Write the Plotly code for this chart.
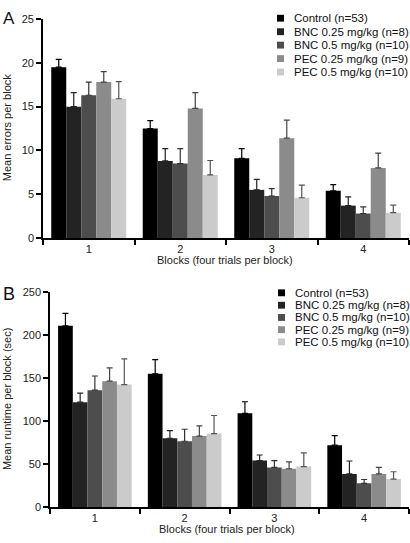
import plotly.graph_objects as go

W, H = 410, 543
FONT = "Liberation Sans, Arial, Helvetica, sans-serif"

# ---------------- data ----------------
blocks = [1, 2, 3, 4]
block_labels = ["1", "2", "3", "4"]
groups = ["Control (n=53)", "BNC 0.25 mg/kg (n=8)", "BNC 0.5 mg/kg (n=10)",
          "PEC 0.25 mg/kg (n=9)", "PEC 0.5 mg/kg (n=10)"]

# Panel A: mean errors per block and SEM
err_control = [19.5, 12.5, 9.1, 5.4]
err_bnc025 = [15.0, 8.8, 5.5, 3.7]
err_bnc05 = [16.3, 8.5, 4.8, 2.8]
err_pec025 = [17.8, 14.8, 11.4, 8.0]
err_pec05 = [15.9, 7.2, 4.6, 2.9]

sem_err_control = [0.9, 0.9, 1.1, 0.7]
sem_err_bnc025 = [1.6, 1.4, 1.2, 1.0]
sem_err_bnc05 = [1.5, 1.7, 0.85, 0.75]
sem_err_pec025 = [1.2, 1.8, 2.05, 1.7]
sem_err_pec05 = [1.95, 1.65, 1.45, 0.85]

# Panel B: mean runtime per block (sec) and SEM
run_control = [211, 155, 109, 72]
run_bnc025 = [122, 80, 54, 38.5]
run_bnc05 = [136, 76.5, 46, 27.5]
run_pec025 = [146.5, 82.5, 44.5, 38.5]
run_pec05 = [142.5, 85.5, 47, 32.5]

sem_run_control = [14.5, 16.5, 13.5, 11]
sem_run_bnc025 = [10.5, 9, 6.5, 15]
sem_run_bnc05 = [16.5, 14, 8, 4.5]
sem_run_pec025 = [15.5, 12, 8, 7.5]
sem_run_pec05 = [30, 21, 16, 8.5]

yticks_A = [0, 5, 10, 15, 20, 25]
yticks_B = [0, 50, 100, 150, 200, 250]

# ---------------- style ----------------
colors = ["#000000", "#232323", "#4d4d4d", "#8b8b8b", "#cbcbcb"]
errbar_colors = ["#000000", "#222222", "#333333", "#444444", "#555555"]

means_A = [err_control, err_bnc025, err_bnc05, err_pec025, err_pec05]
sems_A = [sem_err_control, sem_err_bnc025, sem_err_bnc05, sem_err_pec025, sem_err_pec05]
means_B = [run_control, run_bnc025, run_bnc05, run_pec025, run_pec05]
sems_B = [sem_run_control, sem_run_bnc025, sem_run_bnc05, sem_run_pec025, sem_run_pec05]


def px(x):
    return x / W


def py(y):
    return 1 - y / H


fig = go.Figure()

for i, g in enumerate(groups):
    fig.add_trace(go.Bar(
        x=blocks, y=means_A[i], name=g, marker=dict(color=colors[i], line=dict(width=0)),
        error_y=dict(type="data", array=sems_A[i], arrayminus=[0] * len(blocks),
                     symmetric=False, color=errbar_colors[i], thickness=1.2, width=3),
        xaxis="x", yaxis="y", showlegend=False))
for i, g in enumerate(groups):
    fig.add_trace(go.Bar(
        x=blocks, y=means_B[i], name=g, marker=dict(color=colors[i], line=dict(width=0)),
        error_y=dict(type="data", array=sems_B[i], arrayminus=[0] * len(blocks),
                     symmetric=False, color=errbar_colors[i], thickness=1.2, width=3),
        xaxis="x2", yaxis="y2", showlegend=False))

axis_common = dict(showline=True, linecolor="black", linewidth=1.6, showgrid=False,
                   zeroline=False, tickfont=dict(size=11, color="#222", family=FONT))

xcommon = dict(axis_common, range=[0.5, 4.5], tickmode="array", tickvals=blocks,
               ticktext=block_labels, ticks="",
               minor=dict(ticks="outside", tickmode="linear", tick0=0.5, dtick=1,
                          ticklen=5, tickwidth=1.6, tickcolor="black", showgrid=False))

fig.update_layout(
    width=W, height=H,
    margin=dict(l=0, r=0, t=0, b=0),
    paper_bgcolor="white", plot_bgcolor="white",
    barmode="group", bargap=0.18, bargroupgap=0,
    font=dict(family=FONT, size=11, color="#222"),
    xaxis=dict(xcommon, domain=[px(43), px(409)], anchor="y"),
    yaxis=dict(axis_common, domain=[py(237.3), py(13.3)], range=[0, 25], anchor="x",
               tickmode="array", tickvals=yticks_A, ticks="outside", ticklen=5,
               tickwidth=1.6, tickcolor="black"),
    xaxis2=dict(xcommon, domain=[px(50), px(409)], anchor="y2"),
    yaxis2=dict(axis_common, domain=[py(512.3), py(292.7)], range=[0, 250], anchor="x2",
                tickmode="array", tickvals=yticks_B, ticks="outside", ticklen=5,
                tickwidth=1.6, tickcolor="black"),
)

annotations = []
shapes = []

# panel letters
annotations.append(dict(text="A", x=px(1), y=py(13), xref="paper", yref="paper",
                        xanchor="left", yanchor="middle", showarrow=False,
                        font=dict(size=17, color="#111", family=FONT)))
annotations.append(dict(text="B", x=px(1), y=py(295), xref="paper", yref="paper",
                        xanchor="left", yanchor="middle", showarrow=False,
                        font=dict(size=18, color="#111", family=FONT)))

# axis titles
annotations.append(dict(text="Mean errors per block", x=px(7), y=py(125), xref="paper",
                        yref="paper", textangle=-90, showarrow=False,
                        xanchor="center", yanchor="middle",
                        font=dict(size=11, color="#222", family=FONT)))
annotations.append(dict(text="Mean runtime per block (sec)", x=px(7), y=py(402),
                        xref="paper", yref="paper", textangle=-90, showarrow=False,
                        xanchor="center", yanchor="middle",
                        font=dict(size=11, color="#222", family=FONT)))
annotations.append(dict(text="Blocks (four trials per block)", x=px(225), y=py(259.5),
                        xref="paper", yref="paper", showarrow=False,
                        xanchor="center", yanchor="middle",
                        font=dict(size=11, color="#222", family=FONT)))
annotations.append(dict(text="Blocks (four trials per block)", x=px(227), y=py(535),
                        xref="paper", yref="paper", showarrow=False,
                        xanchor="center", yanchor="middle",
                        font=dict(size=11, color="#222", family=FONT)))

# legends (custom, to match compact spacing)
legA_y = [12.5, 26.3, 40, 53.8, 67.5]
legB_y = [293.3, 306, 318.5, 331, 343.5]
for leg_y, sx, tx in ((legA_y, 277, 292), (legB_y, 278, 292.5)):
    for i, g in enumerate(groups):
        yc = leg_y[i]
        shapes.append(dict(type="rect", xref="paper", yref="paper",
                           x0=px(sx), x1=px(sx + 7), y0=py(yc + 3.5), y1=py(yc - 3.5),
                           fillcolor=colors[i], line=dict(width=0)))
        annotations.append(dict(text=g, x=px(tx), y=py(yc), xref="paper", yref="paper",
                                xanchor="left", yanchor="middle", showarrow=False,
                                font=dict(size=11.5, color="#111", family=FONT)))

fig.update_layout(annotations=annotations, shapes=shapes)

fig.write_html(
    "out.html",
    config={"displayModeBar": False},
    post_script="document.body.style.margin='0';document.body.style.overflow='hidden';",
)
